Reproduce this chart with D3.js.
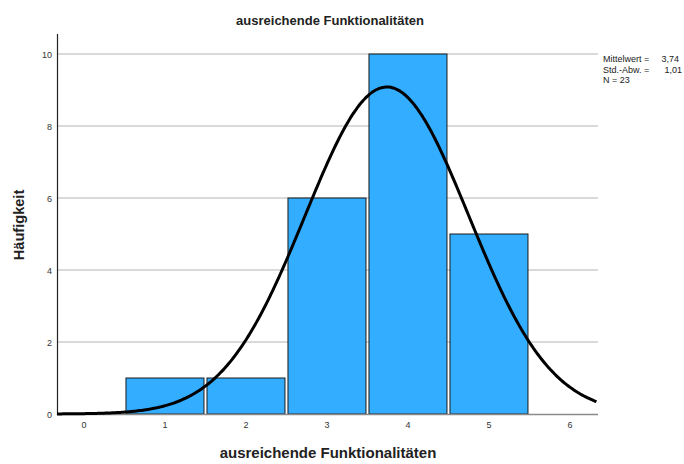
<!DOCTYPE html>
<html><head><meta charset="utf-8">
<script src="https://cdn.jsdelivr.net/npm/d3@7"></script>
<style>body{margin:0;background:#fff}svg{display:block}text{font-family:Arial,"Liberation Sans",sans-serif}</style>
</head><body>
<svg id="c" width="684" height="464"></svg>
<script>
const binCenters = [1, 2, 3, 4, 5];
const counts = [1, 1, 6, 10, 5];
const xTicks = [0, 1, 2, 3, 4, 5, 6];
const yTicks = [0, 2, 4, 6, 8, 10];
const meanVal = 3.74, sdVal = 1.01, nVal = 23;
const legendLabels = ["Mittelwert =", "Std.-Abw. =", "N = 23"];
const legendValues = ["3,74", "1,01", ""];

const svg = d3.select("#c");
const x = d3.scaleLinear().domain([-0.333, 6.346]).range([57, 598]);
const y = d3.scaleLinear().domain([0, 10]).range([414, 54]);

svg.append("g").selectAll("line").data(yTicks.filter(d=>d>0)).join("line")
  .attr("x1",57).attr("x2",598).attr("y1",d=>y(d)).attr("y2",d=>y(d))
  .attr("stroke","#b4b4b4").attr("stroke-width",1);

svg.append("g").selectAll("rect").data(binCenters).join("rect")
  .attr("x",(d)=>x(d-0.5)+1.5).attr("width",(d)=>x(d+0.5)-x(d-0.5)-3)
  .attr("y",(d,i)=>y(counts[i])).attr("height",(d,i)=>y(0)-y(counts[i]))
  .attr("fill","#33adff").attr("stroke","#1a1a1a").attr("stroke-width",1);

svg.append("line").attr("x1",57).attr("x2",598).attr("y1",y(0)+0.5).attr("y2",y(0)+0.5).attr("stroke","#8a8a8a").attr("stroke-width",1.5);
svg.append("line").attr("x1",57.5).attr("x2",57.5).attr("y1",34).attr("y2",415).attr("stroke","#222").attr("stroke-width",1.2);

// normal density overlay from the stated mean / sd / N
const pts = d3.range(x.domain()[0], x.domain()[1]+0.001, 0.02).map(v=>[v, nVal/(sdVal*Math.sqrt(2*Math.PI))*Math.exp(-0.5*((v-meanVal)/sdVal)**2)]);
svg.append("path").datum(pts).attr("d",d3.line().x(d=>x(d[0])).y(d=>y(d[1])).curve(d3.curveBasis))
  .attr("fill","none").attr("stroke","#000").attr("stroke-width",3);

svg.append("g").selectAll("text").data(xTicks).join("text")
  .attr("x",d=>x(d)).attr("y",428).attr("text-anchor","middle")
  .attr("font-size",9).attr("fill","#333").text(d=>d);
svg.append("g").selectAll("text").data(yTicks).join("text")
  .attr("x",52).attr("y",d=>y(d)+3.5).attr("text-anchor","end")
  .attr("font-size",9).attr("fill","#333").text(d=>d);

svg.append("text").attr("x",330).attr("y",25).attr("text-anchor","middle").attr("font-size",13).attr("font-weight","bold").attr("fill","#222").text("ausreichende Funktionalitäten");
svg.append("text").attr("x",328).attr("y",458).attr("text-anchor","middle").attr("font-size",15).attr("font-weight","bold").attr("fill","#222").text("ausreichende Funktionalitäten");
svg.append("text").attr("transform","translate(24,225) rotate(-90)").attr("text-anchor","middle").attr("font-size",14.6).attr("font-weight","bold").attr("fill","#222").text("Häufigkeit");

const lg = svg.append("g");
lg.selectAll("text.l").data(legendLabels).join("text").attr("class","l")
  .attr("x",603).attr("y",(d,i)=>62+i*10.5).attr("font-size",9).attr("fill","#222").text(d=>d);
lg.selectAll("text.v").data(legendValues).join("text").attr("class","v")
  .attr("x",(d,i)=>i===0?679:682).attr("y",(d,i)=>62+i*10.5).attr("text-anchor","end").attr("font-size",9).attr("fill","#222").text(d=>d);
</script>
</body></html>
